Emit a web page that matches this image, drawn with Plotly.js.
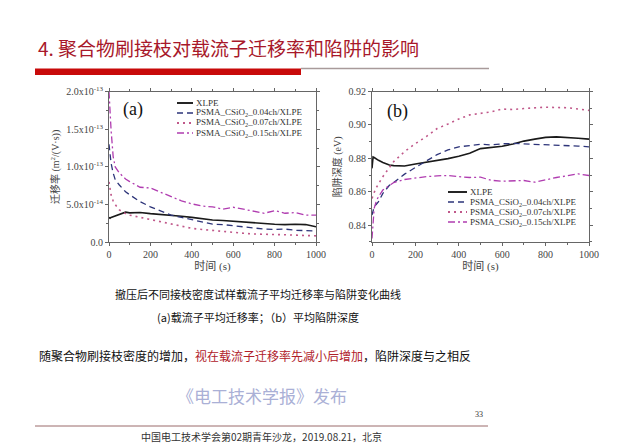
<!DOCTYPE html>
<html>
<head>
<meta charset="utf-8">
<script src="https://cdn.plot.ly/plotly-3.0.1.min.js"></script>
<style>
html,body{margin:0;padding:0;background:#fff;}
#chart{width:640px;height:443px;}
</style>
</head>
<body>
<div id="chart"></div>
<script>
// ---------------- data ----------------
const time = [0,5,10,20,30,50,80,100,150,200,250,300,350,400,450,500,550,600,650,700,750,800,850,900,950,1000];
const seriesNames = ["XLPE","PSMA_CSiO<sub>2</sub>_0.04ch/XLPE","PSMA_CSiO<sub>2</sub>_0.07ch/XLPE","PSMA_CSiO<sub>2</sub>_0.15ch/XLPE"];

// (a) mobility, in units of 1e-14 m^2/(V·s)
const mobilityUnit = 1e-14;
const mobXLPE = [3.3,3.2,3.3,3.4,3.6,3.8,4.0,3.9,3.95,3.8,3.7,3.6,3.45,3.3,3.15,2.95,2.9,2.8,2.7,2.55,2.5,2.4,2.35,2.4,2.35,2.05];
const mob004 = [13.0,11.5,10.5,9.2,8.3,7.6,6.7,6.3,5.4,4.7,4.2,3.6,3.3,3.0,2.6,2.4,2.35,2.2,2.1,1.85,1.75,1.7,1.75,1.6,1.55,1.5];
const mob007 = [8.0,6.8,6.3,5.5,5.0,4.3,3.8,3.6,3.3,3.0,2.7,2.4,2.1,1.85,1.7,1.55,1.4,1.3,1.2,1.1,1.1,1.05,1.0,0.95,0.9,0.85];
const mob015 = [20.0,17.0,14.9,11.4,10.0,9.2,8.4,8.05,7.3,7.2,6.6,6.0,5.5,5.1,4.8,4.7,4.4,4.65,4.4,4.1,3.85,4.2,3.85,3.95,3.6,3.6];

// (b) trap depth, eV
const trapXLPE = [0.8740,0.8808,0.8805,0.8795,0.8788,0.8775,0.8760,0.8756,0.8754,0.8766,0.8776,0.8784,0.8798,0.8812,0.8830,0.8858,0.8865,0.8872,0.8886,0.8903,0.8915,0.8925,0.8928,0.8926,0.8920,0.8915];
const trap004 = [0.846,0.849,0.851,0.8525,0.854,0.859,0.8638,0.8655,0.8705,0.8745,0.8786,0.8822,0.8850,0.8869,0.8876,0.8884,0.8880,0.8887,0.8889,0.8887,0.8884,0.8881,0.8879,0.8876,0.8873,0.8869];
const trap007 = [0.856,0.858,0.8595,0.8625,0.8648,0.869,0.8745,0.878,0.884,0.8888,0.893,0.8978,0.9005,0.9035,0.906,0.9068,0.9078,0.9095,0.9092,0.9098,0.9103,0.9106,0.9104,0.9103,0.9095,0.9087];
const trap015 = [0.832,0.845,0.850,0.8545,0.857,0.861,0.864,0.8655,0.8673,0.8683,0.869,0.8695,0.8697,0.869,0.8685,0.8687,0.8668,0.8663,0.8665,0.8667,0.8657,0.8672,0.8685,0.8695,0.8707,0.8697];

const timeTicks = [0,200,400,600,800,1000];
const mobTickVals = [0,5e-14,1e-13,1.5e-13,2e-13];
const mobTickText = ["0.0","5.0x10<sup>-14</sup>","1.0x10<sup>-13</sup>","1.5x10<sup>-13</sup>","2.0x10<sup>-13</sup>"];
const trapTickVals = [0.84,0.86,0.88,0.90,0.92];
const trapTickText = ["0.84","0.86","0.88","0.90","0.92"];

// ---------------- styles ----------------
const colors = ["#1a1a1a","#2d3479","#c0588a","#b03cb0"];
const dashes = ["solid","6px,4px","2px,4px","7px,3px,2px,3px"];
const widths = [1.6,1.3,1.6,1.3];

const W = 640, H = 443;
const px = x => x / W;
const py = y => 1 - y / H;

const mobSeries = [mobXLPE,mob004,mob007,mob015];
const trapSeries = [trapXLPE,trap004,trap007,trap015];

const traces = [];
mobSeries.forEach((s,i)=>{
  traces.push({x: time, y: s.map(v=>v*mobilityUnit), xaxis:'x', yaxis:'y', mode:'lines',
    line:{color:colors[i], dash:dashes[i], width:widths[i]}, showlegend:false, hoverinfo:'skip'});
});
trapSeries.forEach((s,i)=>{
  traces.push({x: time, y: s, xaxis:'x2', yaxis:'y2', mode:'lines',
    line:{color:colors[i], dash:dashes[i], width:widths[i]}, showlegend:false, hoverinfo:'skip'});
});

const axCol = '#666';
const serif = 'Liberation Serif';
const tickFont = {family:serif, size:10, color:'#444'};
const cjk = 'Liberation Serif, Noto Sans CJK SC, serif';

const domAx = [px(109), px(316)];
const domBx = [px(372), px(589)];
const domY = [py(242.3), py(91.5)];

function baseX(dom, anchor){
  return {domain:dom, anchor:anchor, range:[0,1000], showgrid:false, zeroline:false,
    showline:true, mirror:'ticks', linecolor:axCol, linewidth:1, ticks:'outside', ticklen:3, tickcolor:axCol,
    tickvals:timeTicks, tickfont:tickFont,
    minor:{tickvals:[100,300,500,700,900], ticks:'outside', ticklen:2, tickcolor:axCol},
    title:{text:'时间 (s)', font:{family:cjk, size:11, color:'#444'}, standoff:3}};
}

const layout = {
  width:W, height:H, margin:{l:0,r:0,t:0,b:0}, paper_bgcolor:'#fff', plot_bgcolor:'#fff',
  font:{family:serif, size:10, color:'#444'},
  showlegend:false, hovermode:false,
  xaxis: baseX(domAx,'y'),
  yaxis: {domain:domY, anchor:'x', range:[0,2e-13], showgrid:false, zeroline:false,
    showline:true, mirror:'ticks', linecolor:axCol, linewidth:1, ticks:'outside', ticklen:3, tickcolor:axCol,
    tickvals:mobTickVals, ticktext:mobTickText, tickfont:tickFont,
    minor:{tickvals:[2.5e-14,7.5e-14,1.25e-13,1.75e-13], ticks:'outside', ticklen:2, tickcolor:axCol},
    title:{text:'迁移率 (m<sup>2</sup>/(V·s))', font:{family:cjk, size:10, color:'#444'}, standoff:4}},
  xaxis2: baseX(domBx,'y2'),
  yaxis2: {domain:domY, anchor:'x2', range:[0.8297,0.92], showgrid:false, zeroline:false,
    showline:true, mirror:'ticks', linecolor:axCol, linewidth:1, ticks:'outside', ticklen:3, tickcolor:axCol,
    tickvals:trapTickVals, ticktext:trapTickText, tickfont:tickFont,
    minor:{tickvals:[0.83,0.85,0.87,0.89,0.91], ticks:'outside', ticklen:2, tickcolor:axCol},
    title:{text:'陷阱深度 (eV)', font:{family:cjk, size:10, color:'#444'}, standoff:4}},
  shapes: [
    // title underline
    {type:'line', xref:'paper', yref:'paper', x0:px(301), x1:px(489), y0:py(68.5), y1:py(68.5), line:{color:'#a89a9a', width:1.5}},
    {type:'rect', xref:'paper', yref:'paper', x0:px(35), x1:px(301), y0:py(75), y1:py(68.5), fillcolor:'#c80a0a', line:{width:0}},
    // footer line
    {type:'line', xref:'paper', yref:'paper', x0:px(35), x1:px(488), y0:py(426), y1:py(426), line:{color:'#9a6a6a', width:1}}
  ],
  annotations: [
    {text:'4. 聚合物刷接枝对载流子迁移率和陷阱的影响', xref:'paper', yref:'paper', x:px(36), y:py(48), xanchor:'left', yanchor:'middle', showarrow:false,
      font:{family:'Noto Sans CJK SC, sans-serif', size:19, color:'#a8182a'}},
    {text:'(a)', xref:'paper', yref:'paper', x:px(133), y:py(110), xanchor:'center', yanchor:'middle', showarrow:false,
      font:{family:serif, size:18, color:'#111'}},
    {text:'(b)', xref:'paper', yref:'paper', x:px(397), y:py(111), xanchor:'center', yanchor:'middle', showarrow:false,
      font:{family:serif, size:18, color:'#111'}},
    {text:'撤压后不同接枝密度试样载流子平均迁移率与陷阱变化曲线', xref:'paper', yref:'paper', x:px(258), y:py(294), xanchor:'center', yanchor:'middle', showarrow:false,
      font:{family:'Noto Sans CJK SC, sans-serif', size:11, color:'#111'}},
    {text:'(a)载流子平均迁移率；（b）平均陷阱深度', xref:'paper', yref:'paper', x:px(258), y:py(317), xanchor:'center', yanchor:'middle', showarrow:false,
      font:{family:'Noto Sans CJK SC, sans-serif', size:11, color:'#111'}},
    {text:'随聚合物刷接枝密度的增加，<span style="color:#b0202a">视在载流子迁移率先减小后增加</span>，陷阱深度与之相反', xref:'paper', yref:'paper', x:px(37), y:py(355), xanchor:'left', yanchor:'middle', showarrow:false,
      font:{family:'Noto Sans CJK SC, sans-serif', size:12, color:'#111'}},
    {text:'《电工技术学报》发布', xref:'paper', yref:'paper', x:px(262), y:py(395), xanchor:'center', yanchor:'middle', showarrow:false,
      font:{family:'Noto Sans CJK SC, serif', size:17, color:'#aab0d6'}},
    {text:'33', xref:'paper', yref:'paper', x:px(479), y:py(414), xanchor:'center', yanchor:'middle', showarrow:false,
      font:{family:serif, size:8, color:'#333'}},
    {text:'中国电工技术学会第02期青年沙龙，2019.08.21，北京', xref:'paper', yref:'paper', x:px(261), y:py(436), xanchor:'center', yanchor:'middle', showarrow:false,
      font:{family:'Noto Sans CJK SC, serif', size:10, color:'#333'}}
  ]
};

// manual compact legends
const legA = {x0:177, x1:193, y0:103, dy:10};
const legB = {x0:448, x1:467, y0:192, dy:10};
[legA, legB].forEach(L=>{
  seriesNames.forEach((name,i)=>{
    const y = L.y0 + i*L.dy;
    layout.shapes.push({type:'line', xref:'paper', yref:'paper', x0:px(L.x0), x1:px(L.x1), y0:py(y), y1:py(y),
      line:{color:colors[i], dash:dashes[i], width:widths[i]+0.3}});
    layout.annotations.push({text:name, xref:'paper', yref:'paper', x:px(L.x1+1), y:py(y), xanchor:'left', yanchor:'middle', showarrow:false,
      font:{family:serif, size:9, color:'#333'}});
  });
});

Plotly.newPlot('chart', traces, layout, {displayModeBar:false});
</script>
</body>
</html>
